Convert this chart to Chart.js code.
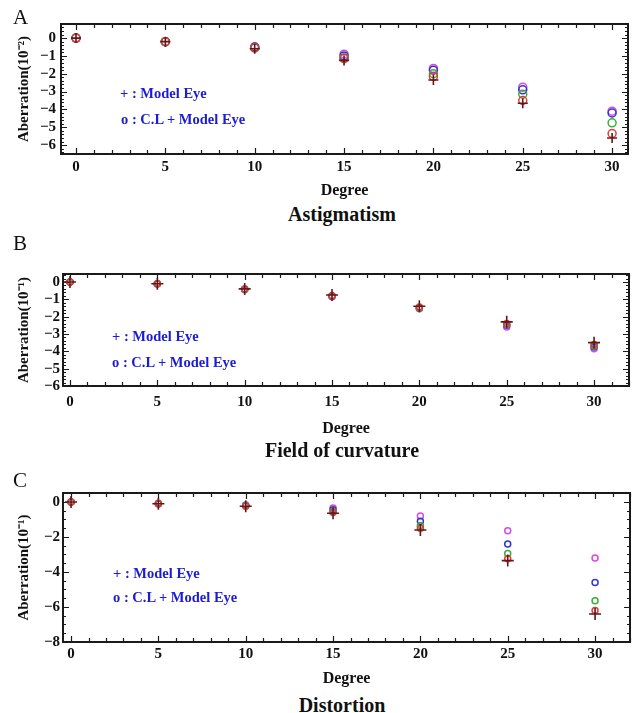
<!DOCTYPE html>
<html>
<head>
<meta charset="utf-8">
<script src="https://cdn.jsdelivr.net/npm/chart.js@4.4.0/dist/chart.umd.min.js"></script>
<style>
body { margin: 0; background: #fff; }
#page { position: relative; width: 639px; height: 713px; font-family: "Liberation Serif", "Times New Roman", serif; color: #111; }
#page canvas { position: absolute; left: 0; }
.txt { position: absolute; white-space: nowrap; line-height: 20px; }
.letter { font-size: 21px; left: 13px; }
.cap { font-size: 20px; font-weight: bold; left: 142px; width: 400px; text-align: center; }
.key { font-size: 14.5px; font-weight: bold; color: #1c1cd4; }
</style>
</head>
<body>
<div id="page">
  <canvas id="chartA" width="639" height="200" style="top:0px"></canvas>
  <canvas id="chartB" width="639" height="208" style="top:230px"></canvas>
  <canvas id="chartC" width="639" height="228" style="top:460px"></canvas>

  <div class="txt letter" style="top:7px">A</div>
  <div class="txt letter" style="top:233px">B</div>
  <div class="txt letter" style="top:470px">C</div>

  <div class="txt key" style="left:120px;top:83px">+ : Model Eye</div>
  <div class="txt key" style="left:121px;top:109px">o : C.L + Model Eye</div>
  <div class="txt key" style="left:112px;top:326px">+ : Model Eye</div>
  <div class="txt key" style="left:112px;top:352px">o : C.L + Model Eye</div>
  <div class="txt key" style="left:113px;top:563px">+ : Model Eye</div>
  <div class="txt key" style="left:113px;top:587px">o : C.L + Model Eye</div>

  <div class="txt cap" style="top:204px">Astigmatism</div>
  <div class="txt cap" style="top:440px">Field of curvature</div>
  <div class="txt cap" style="top:695px">Distortion</div>
</div>

<script>
const degrees = [0, 5, 10, 15, 20, 25, 30];
const xTickLabels = [0, 5, 10, 15, 20, 25, 30];

// Astigmatism, units of 10^-2
const astigModelEye = [0, -0.2, -0.6, -1.25, -2.35, -3.65, -5.6];
const astigRed      = [0, -0.2, -0.55, -1.15, -2.15, -3.5, -5.35];
const astigGreen    = [0, -0.2, -0.55, -1.1, -2.0, -3.15, -4.75];
const astigBlue     = [0, -0.2, -0.5, -1.0, -1.8, -2.9, -4.2];
const astigMagenta  = [0, -0.2, -0.5, -0.9, -1.7, -2.75, -4.1];
const astigYTicks   = [0, -1, -2, -3, -4, -5, -6];

// Field of curvature, units of 10^-1
const curvModelEye = [0, -0.1, -0.4, -0.75, -1.4, -2.3, -3.5];
const curvRed      = [0, -0.1, -0.4, -0.8, -1.45, -2.4, -3.6];
const curvGreen    = [0, -0.1, -0.42, -0.8, -1.5, -2.45, -3.7];
const curvBlue     = [0, -0.1, -0.42, -0.82, -1.5, -2.5, -3.75];
const curvMagenta  = [0, -0.12, -0.45, -0.85, -1.55, -2.6, -3.85];
const curvYTicks   = [0, -1, -2, -3, -4, -5, -6];

// Distortion, units of 10^-1
const distModelEye = [0, -0.1, -0.25, -0.65, -1.6, -3.35, -6.4];
const distRed      = [0, -0.1, -0.25, -0.6, -1.5, -3.25, -6.2];
const distGreen    = [0, -0.1, -0.22, -0.55, -1.35, -2.95, -5.65];
const distBlue     = [0, -0.1, -0.2, -0.45, -1.1, -2.4, -4.6];
const distMagenta  = [0, -0.08, -0.18, -0.35, -0.8, -1.65, -3.2];
const distYTicks   = [0, -2, -4, -6, -8];

const serif = '"Liberation Serif", "Times New Roman", serif';

function pts(arr) {
    return degrees.map((d, i) => ({x: d, y: arr[i]}));
}

function minusLabel(v) {
    return v < 0 ? '\u2212' + (-v) : String(v);
}

// boxed frame with inward ticks on all four sides
const framePlugin = {
    id: 'frame',
    beforeDatasetsDraw(chart, args, o) {
        const {ctx, chartArea, scales} = chart;
        const {left, right, top, bottom} = chartArea;
        const x = scales.x, y = scales.y;
        ctx.save();
        ctx.strokeStyle = '#1a1a1a';
        ctx.lineWidth = 1.2;
        ctx.beginPath();
        for (let v = Math.ceil(x.min); v <= x.max; v++) {
            const px = Math.round(x.getPixelForValue(v)) + 0.5;
            const len = v % 5 === 0 ? 6 : 4;
            ctx.moveTo(px, bottom); ctx.lineTo(px, bottom - len);
            ctx.moveTo(px, top); ctx.lineTo(px, top + len);
        }
        for (let k = Math.ceil(y.min / o.yMinor - 1e-6); k * o.yMinor <= y.max + 1e-6; k++) {
            const v = k * o.yMinor;
            const r = v / o.yMajor;
            const major = Math.abs(r - Math.round(r)) < 1e-6;
            const len = major ? 6 : 3;
            const py = Math.round(y.getPixelForValue(v)) + 0.5;
            ctx.moveTo(left, py); ctx.lineTo(left + len, py);
            ctx.moveTo(right, py); ctx.lineTo(right - len, py);
        }
        ctx.stroke();
        ctx.lineWidth = 2;
        ctx.strokeRect(left, top, right - left, bottom - top);
        ctx.restore();
    }
};

function makePanel(id, p) {
    const circle = (data, color) => ({
        data: pts(data),
        pointStyle: 'circle',
        pointRadius: p.circ,
        borderColor: color,
        backgroundColor: 'rgba(255,255,255,0)',
        borderWidth: 1.5
    });
    const datasets = [
        {
            data: pts(p.model),
            pointStyle: 'cross',
            pointRadius: p.plus,
            borderColor: '#5e1818',
            borderWidth: 1.6
        },
        circle(p.red, '#e03a3a'),
        circle(p.green, '#38b038'),
        circle(p.blue, '#3434cc'),
        circle(p.magenta, '#dc48e6')
    ];
    new Chart(document.getElementById(id), {
        type: 'scatter',
        data: {datasets: datasets},
        plugins: [framePlugin],
        options: {
            responsive: false,
            animation: false,
            events: [],
            layout: {autoPadding: false, padding: {top: p.padTop, right: p.padRight, left: 0, bottom: 0}},
            plugins: {
                legend: {display: false},
                tooltip: {enabled: false},
                frame: {yMinor: p.yMinor, yMajor: p.yMajor}
            },
            scales: {
                x: {
                    type: 'linear',
                    min: p.xMin,
                    max: p.xMax,
                    afterBuildTicks: (s) => { s.ticks = xTickLabels.map(v => ({value: v})); },
                    afterFit: (s) => { s.height = p.xHeight; },
                    grid: {display: false, drawTicks: false},
                    border: {display: false},
                    ticks: {
                        padding: p.xPad,
                        autoSkip: false,
                        maxRotation: 0,
                        color: '#111',
                        font: {family: serif, size: 15, weight: 'bold'}
                    },
                    title: {
                        display: true,
                        text: 'Degree',
                        color: '#111',
                        padding: 0,
                        font: {family: serif, size: 16, weight: 'bold', lineHeight: 1.2}
                    }
                },
                y: {
                    type: 'linear',
                    min: p.yMin,
                    max: p.yMax,
                    afterBuildTicks: (s) => { s.ticks = p.yTicks.map(v => ({value: v})); },
                    afterFit: (s) => { s.width = p.yWidth; },
                    grid: {display: false, drawTicks: false},
                    border: {display: false},
                    ticks: {
                        padding: p.yPad,
                        autoSkip: false,
                        color: '#111',
                        callback: minusLabel,
                        font: {family: serif, size: 15, weight: 'bold'}
                    },
                    title: {
                        display: true,
                        text: p.yTitle,
                        color: '#111',
                        padding: {top: 15, bottom: 0},
                        font: {family: serif, size: 15, weight: 'bold', lineHeight: 1.2}
                    }
                }
            }
        }
    });
}

makePanel('chartA', {
    model: astigModelEye, red: astigRed, green: astigGreen, blue: astigBlue, magenta: astigMagenta,
    yTicks: astigYTicks, yTitle: 'Aberration(10\u207B\u00B2)',
    xMin: -0.84, xMax: 30.89, yMin: -6.5, yMax: 0.79,
    padTop: 24, padRight: 11, yWidth: 61, xHeight: 46, xPad: 4, yPad: 5,
    yMinor: 0.2, yMajor: 1, plus: 5, circ: 4
});

makePanel('chartB', {
    model: curvModelEye, red: curvRed, green: curvGreen, blue: curvBlue, magenta: curvMagenta,
    yTicks: curvYTicks, yTitle: 'Aberration(10\u207B\u00B9)',
    xMin: -0.4, xMax: 32.0, yMin: -6, yMax: 0.46,
    padTop: 44, padRight: 10, yWidth: 63, xHeight: 52, xPad: 7, yPad: 3,
    yMinor: 0.2, yMajor: 1, plus: 6, circ: 3
});

makePanel('chartC', {
    model: distModelEye, red: distRed, green: distGreen, blue: distBlue, magenta: distMagenta,
    yTicks: distYTicks, yTitle: 'Aberration(10\u207B\u00B9)',
    xMin: -0.46, xMax: 32.0, yMin: -8, yMax: 0.51,
    padTop: 33, padRight: 9, yWidth: 63, xHeight: 46, xPad: 3, yPad: 3,
    yMinor: 0.5, yMajor: 2, plus: 6, circ: 3
});
</script>
</body>
</html>
